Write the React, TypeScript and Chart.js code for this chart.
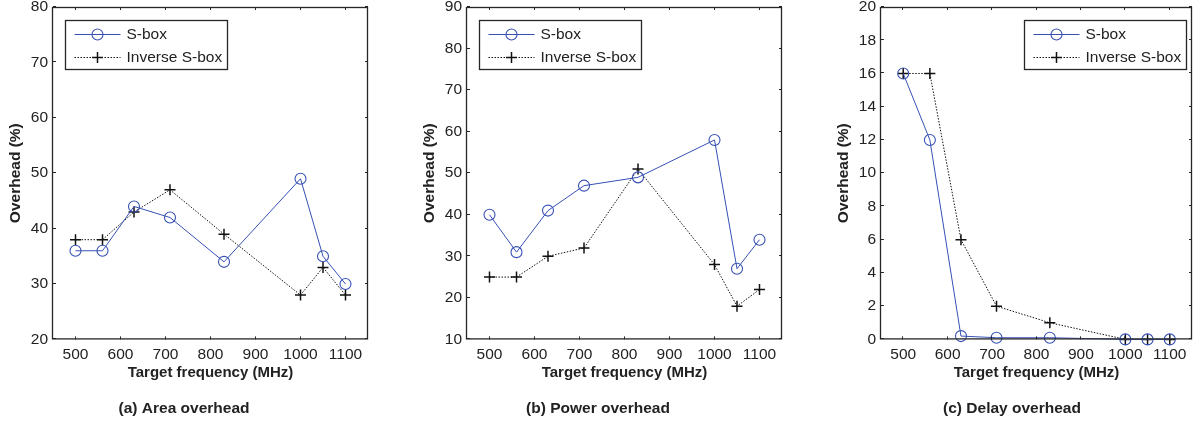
import React, { useEffect, useRef } from "react";
import { Chart, registerables } from "chart.js";

Chart.register(...registerables);

// ---- data ----
const frequencies = [500, 560, 630, 710, 830, 1000, 1050, 1100];
const xTickValues = [500, 600, 700, 800, 900, 1000, 1100];
const seriesLabels = ["S-box", "Inverse S-box"];

const areaSbox = [36, 36, 44, 42, 34, 49, 35, 30];
const areaInverse = [38, 38, 43, 47, 39, 28, 33, 28];
const areaYTicks = [20, 30, 40, 50, 60, 70, 80];

const powerSbox = [40, 31, 41, 47, 49, 58, 27, 34];
const powerInverse = [25, 25, 30, 32, 51, 28, 18, 22];
const powerYTicks = [10, 20, 30, 40, 50, 60, 70, 80, 90];

const delaySbox = [16, 12, 0.2, 0.1, 0.1, 0, 0, 0];
const delayInverse = [16, 16, 6, 2, 1, 0, 0, 0];
const delayYTicks = [0, 2, 4, 6, 8, 10, 12, 14, 16, 18, 20];

const captions = ["(a) Area overhead", "(b) Power overhead", "(c) Delay overhead"];
const xTitle = "Target frequency (MHz)";
const yTitle = "Overhead (%)";

// ---- styles ----
const FONT = '"Liberation Sans", Arial, Helvetica, sans-serif';
const TEXT = "#222222";
const FRAME = "#262626";
const BLUE = "#3650b4";
const BLACK = "#111111";

const framePlugin = {
  id: "matlabFrame",
  afterDatasetsDraw(chart: any, _args: any, opts: any) {
    const { ctx, chartArea: a, scales } = chart;
    ctx.save();
    ctx.strokeStyle = FRAME;
    ctx.lineWidth = 1;
    ctx.setLineDash([]);
    const tl = 3;
    ctx.beginPath();
    for (const t of scales.x.ticks) {
      const px = Math.round(scales.x.getPixelForValue(t.value)) - 0.5;
      ctx.moveTo(px, a.bottom);
      ctx.lineTo(px, a.bottom - tl);
      ctx.moveTo(px, a.top);
      ctx.lineTo(px, a.top + tl);
    }
    for (const t of scales.y.ticks) {
      const py = Math.round(scales.y.getPixelForValue(t.value)) - 0.5;
      ctx.moveTo(a.left, py);
      ctx.lineTo(a.left + tl, py);
      ctx.moveTo(a.right, py);
      ctx.lineTo(a.right - tl, py);
    }
    ctx.stroke();
    ctx.lineWidth = 1.3;
    ctx.strokeRect(a.left - 0.5, a.top + 0.5, a.right - a.left, a.bottom - a.top - 1);

    // legend
    ctx.font = "15.5px " + FONT;
    const datasets = chart.data.datasets;
    let textW = 0;
    for (const ds of datasets) textW = Math.max(textW, ctx.measureText(ds.label).width);
    const boxW = Math.round(61 + textW + 5);
    const boxH = 49;
    const boxTop = Math.round(a.top + 13) + 0.5;
    const boxLeft =
      opts.side === "right" ? Math.round(a.right - 6 - boxW) + 0.5 : Math.round(a.left + 12) + 0.5;
    ctx.fillStyle = "#ffffff";
    ctx.fillRect(boxLeft, boxTop, boxW, boxH);
    ctx.strokeStyle = FRAME;
    ctx.lineWidth = 1.3;
    ctx.strokeRect(boxLeft, boxTop, boxW, boxH);
    const rowYs = [boxTop + 13.5, boxTop + 36];
    datasets.forEach((ds: any, i: number) => {
      const y = Math.round(rowYs[i]) + 0.5;
      ctx.strokeStyle = ds.borderColor;
      ctx.lineWidth = 1;
      ctx.setLineDash(ds.borderDash || []);
      ctx.beginPath();
      ctx.moveTo(boxLeft + 9, y);
      ctx.lineTo(boxLeft + 55, y);
      ctx.stroke();
      ctx.setLineDash([]);
      const mx = boxLeft + 32;
      const r = ds.pointRadius;
      ctx.beginPath();
      ctx.lineWidth = ds.pointBorderWidth;
      if (ds.pointStyle === "cross") {
        ctx.moveTo(mx - r, y);
        ctx.lineTo(mx + r, y);
        ctx.moveTo(mx, y - r);
        ctx.lineTo(mx, y + r);
      } else {
        ctx.arc(mx, y, r, 0, Math.PI * 2);
      }
      ctx.stroke();
      ctx.fillStyle = TEXT;
      ctx.textBaseline = "middle";
      ctx.textAlign = "left";
      ctx.fillText(ds.label, boxLeft + 61, y + 0.5);
    });
    ctx.restore();
  },
};

type PanelProps = {
  left: number;
  width: number;
  padRight: number;
  sbox: number[];
  inverse: number[];
  yTicks: number[];
  caption: string;
  legendSide: "left" | "right";
};

function Panel({ left, width, padRight, sbox, inverse, yTicks, caption, legendSide }: PanelProps) {
  const ref = useRef<HTMLCanvasElement | null>(null);
  useEffect(() => {
    if (!ref.current) return;
    const chart = new Chart(ref.current, {
      type: "line",
      data: {
        datasets: [
          {
            label: seriesLabels[0],
            data: frequencies.map((x, i) => ({ x, y: sbox[i] })),
            borderColor: BLUE,
            borderWidth: 1,
            pointStyle: "circle",
            pointRadius: 5.5,
            pointBorderColor: BLUE,
            pointBackgroundColor: "rgba(0,0,0,0)",
            pointBorderWidth: 1.1,
            tension: 0,
            fill: false,
            clip: 10,
          } as any,
          {
            label: seriesLabels[1],
            data: frequencies.map((x, i) => ({ x, y: inverse[i] })),
            borderColor: BLACK,
            borderWidth: 1,
            borderDash: [1.5, 1.5],
            pointStyle: "cross",
            pointRadius: 5.5,
            pointBorderColor: BLACK,
            pointBackgroundColor: BLACK,
            pointBorderWidth: 1.5,
            tension: 0,
            fill: false,
            clip: 10,
          } as any,
        ],
      },
      options: {
        responsive: false,
        animation: false,
        devicePixelRatio: 1,
        events: [],
        layout: { padding: { left: 0, right: padRight, top: 7, bottom: 0 } },
        plugins: {
          legend: { display: false },
          tooltip: { enabled: false },
          title: {
            display: true,
            position: "bottom",
            text: caption,
            color: TEXT,
            font: { family: FONT, size: 15.5, weight: "bold" },
            padding: { top: 7, bottom: 5 },
          },
          matlabFrame: { side: legendSide },
        } as any,
        scales: {
          x: {
            type: "linear",
            min: 450,
            max: 1150,
            grid: { display: false, drawTicks: false },
            border: { display: false },
            ticks: {
              color: TEXT,
              font: { family: FONT, size: 15.5 },
              padding: 6,
              autoSkip: false,
              maxRotation: 0,
              callback: (v: any) => String(v),
            },
            afterBuildTicks: (s: any) => {
              s.ticks = xTickValues.map((v) => ({ value: v }));
            },
            afterFit: (s: any) => {
              s.height = 53;
              s.paddingLeft = 0;
              s.paddingRight = 0;
            },
            title: {
              display: true,
              text: xTitle,
              color: TEXT,
              font: { family: FONT, size: 15, weight: "bold" },
              padding: { top: 0, bottom: 11 },
            },
          },
          y: {
            type: "linear",
            min: yTicks[0],
            max: yTicks[yTicks.length - 1],
            grid: { display: false, drawTicks: false },
            border: { display: false },
            ticks: {
              color: TEXT,
              font: { family: FONT, size: 15.5 },
              padding: 5,
              autoSkip: false,
              callback: (v: any) => String(v),
            },
            afterBuildTicks: (s: any) => {
              s.ticks = yTicks.map((v) => ({ value: v }));
            },
            afterFit: (s: any) => {
              s.width = 53;
              s.paddingTop = 0;
              s.paddingBottom = 0;
            },
            title: {
              display: true,
              text: yTitle,
              color: TEXT,
              font: { family: FONT, size: 15.5, weight: "bold" },
              padding: { top: 6, bottom: 0 },
            },
          },
        },
      } as any,
      plugins: [framePlugin],
    });
    return () => chart.destroy();
  }, []);
  return (
    <canvas
      ref={ref}
      width={width}
      height={423}
      style={{ position: "absolute", left, top: 0, width, height: 423 }}
    />
  );
}

export default function App() {
  return (
    <div
      style={{
        position: "absolute",
        left: 0,
        top: 0,
        width: 1199,
        height: 423,
        background: "#ffffff",
        overflow: "hidden",
      }}
    >
      <Panel left={0} width={414} padRight={46} sbox={areaSbox} inverse={areaInverse} yTicks={areaYTicks} caption={captions[0]} legendSide="left" />
      <Panel left={414} width={414} padRight={46} sbox={powerSbox} inverse={powerInverse} yTicks={powerYTicks} caption={captions[1]} legendSide="left" />
      <Panel left={828} width={371} padRight={3} sbox={delaySbox} inverse={delayInverse} yTicks={delayYTicks} caption={captions[2]} legendSide="right" />
    </div>
  );
}
